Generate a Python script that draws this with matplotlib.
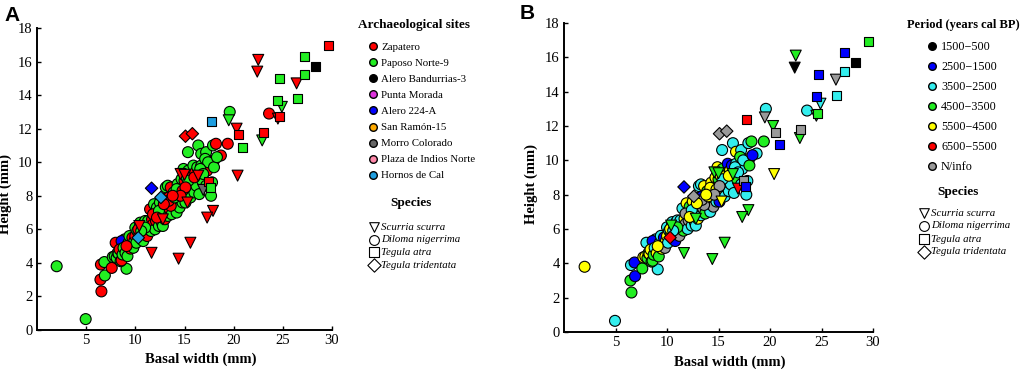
import matplotlib.pyplot as plt
import numpy as np

# --- Data ---
# Scurria scurra (triangles): basal width, height, site, period
scu_w = [22.5, 22.4, 26.4, 24.9, 24.5, 22.9, 19.5, 20.3, 20.4, 17.9, 17.3, 15.6,
         14.4, 11.65, 14.6, 15.3, 16.4, 10.4, 16.9, 15.0, 12.8]
scu_h = [16.1, 15.4, 14.7, 13.3, 12.6, 11.3, 12.5, 12.0, 9.2, 7.1, 6.7, 5.2,
         4.25, 4.6, 9.3, 7.6, 9.2, 6.2, 8.35, 9.25, 6.6]
scu_site = ['Z', 'Z', 'Z', 'P', 'Z', 'P', 'P', 'Z', 'Z', 'Z', 'Z', 'Z',
            'Z', 'Z', 'Z', 'Z', 'Z', 'Z', 'MC', 'Z', 'Z']
scu_per = ['g', 'k', 'n', 'c', 'g', 'g', 'n', 'g', 'y', 'g', 'g', 'g',
           'g', 'g', 'g', 'y', 'g', 'g', 'r', 'g', 'g']

# Tegula atra (squares)
atr_w = [29.6, 27.2, 28.3, 27.2, 26.5, 24.7, 24.5, 24.65, 23.0, 17.7, 20.5, 20.9, 17.4, 17.6]
atr_h = [16.95, 16.3, 15.7, 15.2, 13.8, 15.0, 13.7, 12.7, 11.8, 12.4, 11.65, 10.9, 8.85, 8.5]
atr_site = ['Z', 'P', 'AB', 'P', 'P', 'P', 'P', 'Z', 'Z', 'HC', 'Z', 'P', 'Z', 'P']
atr_per = ['g', 'b', 'k', 'c', 'c', 'b', 'b', 'g', 'n', 'r', 'n', 'b', 'n', 'b']

# Tegula tridentata (diamonds)
tri_w = [15.1, 15.8, 11.65, 12.6, 10.3]
tri_h = [11.55, 11.7, 8.45, 7.9, 5.5]
tri_site = ['Z', 'Z', 'A224', 'HC', 'HC']
tri_per = ['n', 'n', 'b', 'n', 'r']

# Diloma nigerrima (circles)
dil_w = [2.0, 4.95, 6.5, 6.45, 6.55, 6.9, 6.85, 7.6, 9.1, 8.0, 8.9, 8.6, 9.4,
         19.6, 23.6, 15.35, 16.4, 16.7, 17.2, 17.9, 18.2, 19.4, 18.7, 17.7, 17.5,
         18.0, 16.2, 17.6,
         7.7, 7.9, 8.1, 8.2, 8.3, 8.4, 8.5, 8.6, 8.7, 8.8, 9.0, 9.2, 9.3, 9.4, 9.5,
         9.6, 9.7, 9.8, 9.9, 10.0, 10.0, 10.1, 10.2, 10.4, 10.5, 10.5, 10.6, 10.7,
         10.8, 10.9, 11.0, 11.0, 11.1, 11.2, 11.3, 11.4, 11.5, 11.6, 11.7, 11.8,
         11.9, 12.0, 12.0, 12.1, 12.2, 12.3, 12.4, 12.5, 12.5, 12.6, 12.7, 12.7,
         12.8, 12.9, 13.0, 13.0, 13.1, 13.2, 13.3, 13.3, 13.4, 13.5, 13.6, 13.7,
         13.8, 13.9, 14.0, 14.1, 14.2, 14.3, 14.4, 14.5, 14.6, 14.7, 14.8, 14.9,
         15.0, 15.0, 15.1, 15.2, 15.3, 15.4, 15.5, 15.6, 15.7, 15.8, 15.9, 16.0,
         16.1, 16.2, 16.3, 16.5, 16.6, 16.7, 16.8, 17.0, 17.1, 17.2, 17.3, 17.4,
         17.8, 18.0, 18.3,
         10.3, 11.8, 12.4, 13.6, 14.2, 14.8, 15.4, 16.0, 16.6, 13.4, 12.2, 11.0,
         14.0, 15.1, 9.1, 10.6, 12.9, 16.9, 14.6, 13.8]
dil_h = [3.8, 0.65, 3.9, 3.0, 2.3, 3.25, 4.05, 3.7, 3.65, 5.2, 5.4, 5.3, 5.0,
         13.0, 12.9, 10.6, 11.0, 10.5, 10.6, 11.0, 11.1, 11.1, 10.4, 8.0, 9.95,
         10.1, 9.0, 9.75,
         4.35, 4.4, 4.3, 4.6, 4.55, 4.8, 4.1, 4.15, 4.5, 4.9, 4.6, 4.4, 5.2, 5.6, 4.85,
         5.1, 5.5, 4.9, 5.3, 5.6, 6.1, 5.2, 5.9, 5.7, 6.3, 6.4, 5.5, 6.0,
         5.3, 6.4, 5.8, 6.5, 6.2, 5.6, 6.5, 6.0, 7.2, 5.9, 6.6, 6.3,
         7.5, 6.9, 6.0, 6.5, 7.3, 6.8, 6.2, 7.0, 7.6, 6.6, 7.2, 6.4,
         6.2, 7.8, 7.0, 6.6, 8.5, 7.4, 6.8, 8.6, 7.9, 7.2, 8.5, 6.9,
         7.6, 8.2, 7.5, 8.1, 7.0, 8.7, 7.8, 7.3, 8.4, 9.0, 7.6, 9.6,
         8.0, 8.9, 7.6, 9.1, 8.4, 9.5, 8.6, 7.9, 9.1, 8.7, 9.8, 8.2,
         9.4, 8.6, 9.7, 8.1, 9.2, 9.8, 8.9, 9.4, 10.2, 8.6, 9.5, 10.0,
         8.8, 9.7, 10.3,
         6.0, 6.9, 7.1, 7.4, 8.4, 8.3, 8.9, 9.1, 9.6, 7.7, 6.7, 6.1,
         7.9, 8.5, 5.0, 5.9, 7.5, 9.3, 8.0, 8.0]
dil_site = ['P', 'P', 'Z', 'Z', 'Z', 'P', 'P', 'Z', 'P', 'Z', 'P', 'A224', 'PIN',
            'P', 'Z', 'P', 'P', 'P', 'P', 'P', 'Z', 'Z', 'Z', 'P', 'Z',
            'SR', 'PM', 'Z',
            'P', 'P', 'P', 'P', 'P', 'Z', 'P', 'Z', 'P', 'P', 'P', 'P', 'P', 'P', 'Z',
            'P', 'Z', 'P', 'P', 'Z', 'P', 'P', 'P', 'Z', 'P', 'P', 'P', 'Z',
            'P', 'P', 'Z', 'P', 'P', 'Z', 'P', 'Z', 'Z', 'P', 'Z', 'Z',
            'P', 'Z', 'P', 'Z', 'P', 'Z', 'P', 'Z', 'P', 'Z', 'Z', 'P',
            'P', 'P', 'Z', 'Z', 'P', 'Z', 'P', 'P', 'Z', 'Z', 'Z', 'P',
            'Z', 'P', 'Z', 'Z', 'P', 'P', 'Z', 'P', 'Z', 'P', 'P', 'P',
            'Z', 'Z', 'P', 'P', 'Z', 'P', 'Z', 'P', 'Z', 'P', 'P', 'P',
            'Z', 'P', 'P', 'P', 'Z', 'P', 'P', 'Z', 'P', 'P', 'Z', 'P',
            'P', 'P', 'P',
            'Z', 'Z', 'P', 'Z', 'P', 'Z', 'P', 'Z', 'P', 'Z', 'Z', 'P',
            'P', 'Z', 'Z', 'P', 'Z', 'P', 'Z', 'Z']
dil_per = ['y', 'c', 'c', 'g', 'g', 'b', 'b', 'g', 'c', 'c', 'c', 'b', 'y',
           'c', 'c', 'c', 'c', 'y', 'c', 'c', 'g', 'g', 'c', 'c', 'n',
           'y', 'b', 'n',
           'y', 'y', 'g', 'g', 'y', 'y', 'g', 'g', 'g', 'c', 'y', 'g', 'c', 'c', 'y',
           'c', 'b', 'n', 'y', 'y', 'c', 'c', 'c', 'y', 'c', 'c', 'b', 'y',
           'b', 'c', 'y', 'c', 'y', 'n', 'c', 'y', 'c', 'g', 'y', 'n',
           'y', 'y', 'c', 'n', 'g', 'y', 'c', 'y', 'y', 'n', 'y', 'c',
           'c', 'g', 'n', 'y', 'c', 'y', 'c', 'c', 'b', 'n', 'y', 'g',
           'y', 'g', 'n', 'y', 'c', 'y', 'y', 'n', 'c', 'y', 'c', 'y',
           'y', 'g', 'b', 'y', 'y', 'g', 'y', 'c', 'y', 'y', 'b', 'c',
           'y', 'c', 'b', 'c', 'c', 'c', 'g', 'y', 'g', 'c', 'c', 'c',
           'c', 'g', 'b',
           'y', 'n', 'c', 'n', 'y', 'y', 'c', 'y', 'c', 'n', 'y', 'g',
           'y', 'n', 'y', 'c', 'y', 'c', 'n', 'y']

site_names = ['Zapatero', 'Paposo Norte-9', 'Alero Bandurrias-3', 'Punta Morada',
              'Alero 224-A', 'San Ramón-15', 'Morro Colorado',
              'Plaza de Indios Norte', 'Hornos de Cal']
site_keys = ['Z', 'P', 'AB', 'PM', 'A224', 'SR', 'MC', 'PIN', 'HC']
site_colors = ['#ff0000', '#22ee22', '#000000', '#dd33dd', '#0000ff',
               '#ffaa00', '#666666', '#ff88aa', '#1e9ee0']

period_names = ['1500\u2212500', '2500\u22121500', '3500\u22122500', '4500\u22123500',
                '5500\u22124500', '6500\u22125500', 'N/info']
period_keys = ['k', 'b', 'c', 'g', 'y', 'r', 'n']
period_colors = ['#000000', '#0000ff', '#33eeee', '#22ee22', '#ffff00',
                 '#ff0000', '#999999']

species_names = ['Scurria scurra', 'Diloma nigerrima', 'Tegula atra', 'Tegula tridentata']

site_cmap = dict(zip(site_keys, site_colors))
period_cmap = dict(zip(period_keys, period_colors))

groups = [
    ('o', 62, dil_w, dil_h, dil_site, dil_per),
    ('v', 62, scu_w, scu_h, scu_site, scu_per),
    ('s', 42, atr_w, atr_h, atr_site, atr_per),
    ('D', 40, tri_w, tri_h, tri_site, tri_per),
]

plt.rcParams['font.family'] = 'Liberation Serif'
W, H = 1024, 369
fig = plt.figure(figsize=(W / 100, H / 100), dpi=100)


def px_axes(l, t, r, b):
    return fig.add_axes([l / W, 1 - b / H, (r - l) / W, (b - t) / H])


def style(ax, xlab_x, ylab_y):
    ax.set_xlim(0, 30)
    ax.set_ylim(0, 18)
    ax.set_xticks([5, 10, 15, 20, 25, 30])
    ax.set_yticks(np.arange(0, 19, 2))
    for s in ['top', 'right']:
        ax.spines[s].set_visible(False)
    for s in ['left', 'bottom']:
        ax.spines[s].set_linewidth(1.4)
    ax.tick_params(direction='in', length=3, width=1, labelsize=10.5, pad=3)
    ax.set_xlabel('Basal width (mm)', fontsize=10.5, fontweight='bold')
    ax.set_ylabel('Height (mm)', fontsize=10.5, fontweight='bold')
    ax.xaxis.set_label_coords(xlab_x, -0.075)
    ax.yaxis.set_label_coords(-0.085, ylab_y)


axA = px_axes(37, 28, 332, 330)
axB = px_axes(564, 23, 873, 332)

for ax, key in [(axA, 'site'), (axB, 'period')]:
    for marker, size, w, h, site, per in groups:
        if key == 'site':
            cols = [site_cmap[s] for s in site]
        else:
            cols = [period_cmap[p] for p in per]
        ax.scatter(w, h, s=size, marker=marker, c=cols, edgecolors='black',
                   linewidths=0.8, zorder=3, clip_on=False)

style(axA, 0.556, 0.45)
style(axB, 0.537, 0.48)

fig.text(4 / W, 1 - 21 / H, 'A', fontsize=15, fontweight='bold', family='Liberation Sans')
fig.text(520 / W, 1 - 19 / H, 'B', fontsize=15, fontweight='bold', family='Liberation Sans')

# --- legends drawn in figure pixel coordinates ---
lg = fig.add_axes([0, 0, 1, 1])
lg.set_xlim(0, W)
lg.set_ylim(H, 0)
lg.axis('off')

sp_markers = ['v', 'o', 's', 'D']
sp_sizes = [48, 50, 62, 46]

# panel A
lg.text(414, 25, 'Archaeological sites', ha='center', va='center', fontsize=9.5, fontweight='bold')
for i, (name, col) in enumerate(zip(site_names, site_colors)):
    y = 46 + i * 16.1
    lg.scatter(373, y, s=30, c=col, edgecolors='black', linewidths=1.0)
    lg.text(381, y + 1, name, va='center', fontsize=7.8)
lg.text(411, 203, 'Species', ha='center', va='center', fontsize=9.5, fontweight='bold')
for i, (name, m, s) in enumerate(zip(species_names, sp_markers, sp_sizes)):
    y = 227 + i * 12.7
    lg.scatter(374, y, s=s, marker=m, facecolors='white', edgecolors='black', linewidths=0.8)
    lg.text(381, y, name, va='center', fontsize=7.8, style='italic')

# panel B
lg.text(963, 25, 'Period (years cal BP)', ha='center', va='center', fontsize=9, fontweight='bold')
for i, (name, col) in enumerate(zip(period_names, period_colors)):
    y = 46 + i * 20
    lg.scatter(932, y, s=30, c=col, edgecolors='black', linewidths=1.0)
    lg.text(941, y + 1, name, va='center', fontsize=8.7)
lg.text(958, 192, 'Species', ha='center', va='center', fontsize=9.5, fontweight='bold')
for i, (name, m, s) in enumerate(zip(species_names, sp_markers, sp_sizes)):
    y = 213 + i * 13
    lg.scatter(924, y, s=s, marker=m, facecolors='white', edgecolors='black', linewidths=0.8)
    lg.text(931, y, name, va='center', fontsize=7.8, style='italic')

fig.savefig('out.png', dpi=100)
